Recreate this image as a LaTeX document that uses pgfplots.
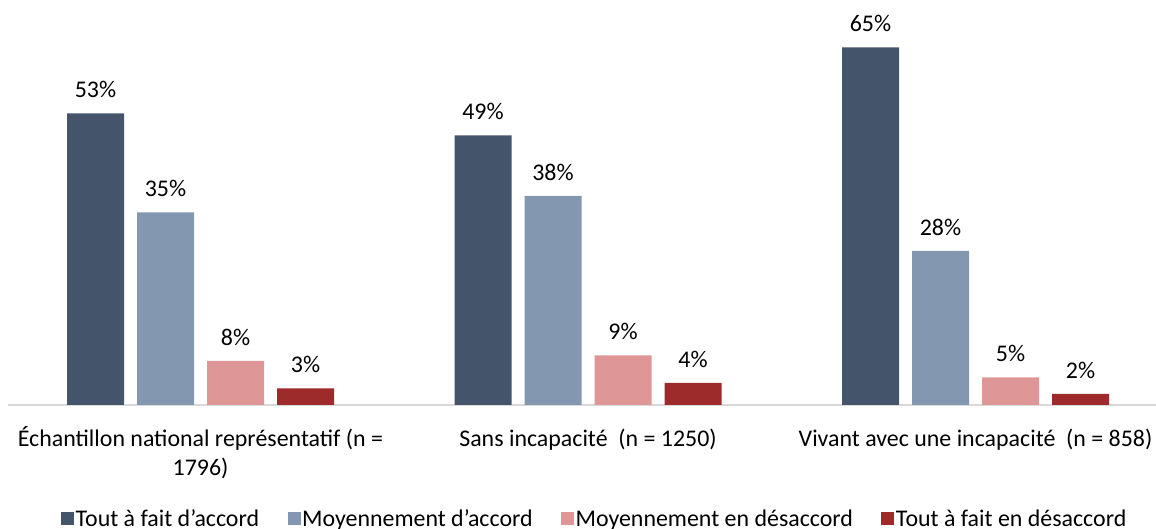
\documentclass[border=0pt]{standalone}
\usepackage{pgfplots}
\pgfplotsset{compat=1.18}
\usepackage{fontspec}
\setmainfont{Carlito}

\definecolor{cdark}{HTML}{44546A}
\definecolor{cblue}{HTML}{8497B0}
\definecolor{cpink}{HTML}{DE9696}
\definecolor{cred}{HTML}{9E2B2B}

\begin{document}
\begin{tikzpicture}[font=\fontsize{23.9}{29}\selectfont]
\useasboundingbox (0,0) rectangle (1156pt,529pt);
\begin{axis}[
  at={(8pt,124pt)}, anchor=south west,
  x=387.5pt, y=5.5pt,
  xmin=-0.4968, xmax=2.4658,
  ymin=0, ymax=70,
  clip=false,
  ybar=13pt, bar width=57pt,
  axis y line=none,
  axis x line*=bottom,
  x axis line style={draw=black!15, line width=1.5pt, -},
  major tick length=0pt,
  xtick=data,
  xticklabels={{Échantillon national représentatif (n =\\1796)},{Sans incapacité\ \ (n = 1250)},{Vivant avec une incapacité\ \ (n = 858)}},
  typeset ticklabels with strut,
  xticklabel style={align=center, anchor=north, yshift=-21.5pt, inner sep=0pt},
  nodes near coords={\pgfmathprintnumber[assume math mode=true]{\pgfplotspointmeta}\%},
  nodes near coords style={inner sep=0pt, yshift=15.5pt, black},
  legend columns=4,
  legend style={draw=none, fill=none, at={(0.5109,-0.2961)}, anchor=center,
    inner sep=0pt, nodes={inner xsep=1.5pt, inner ysep=0pt},
    /tikz/every even column/.append style={column sep=27pt}},
  legend image code/.code={\fill[#1] (0pt,-6.5pt) rectangle (13pt,6.5pt);},
]
\addplot[fill=cdark, draw=none] coordinates {(0,53) (1,49) (2,65)};
\addplot[fill=cblue, draw=none] coordinates {(0,35) (1,38) (2,28)};
\addplot[fill=cpink, draw=none] coordinates {(0,8) (1,9) (2,5)};
\addplot[fill=cred, draw=none] coordinates {(0,3) (1,4) (2,2)};
\legend{Tout à fait d’accord, Moyennement d’accord, Moyennement en désaccord, Tout à fait en désaccord}
\end{axis}
\end{tikzpicture}
\end{document}
